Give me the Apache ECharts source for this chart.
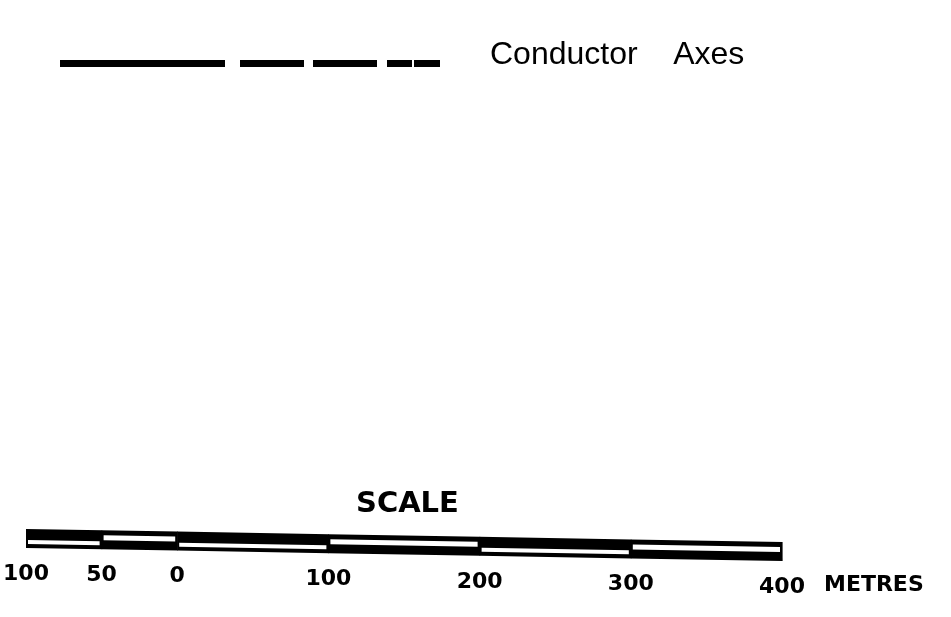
<!DOCTYPE html>
<html>
<head>
<meta charset="utf-8">
<script src="https://cdn.jsdelivr.net/npm/echarts@6/dist/echarts.min.js"></script>
<style>
html,body{margin:0;padding:0;background:#fff;}
#chart{width:951px;height:617px;}
</style>
</head>
<body>
<div id="chart"></div>
<script>
// ---- data ----
const scaleTicks = [-100, -50, 0, 100, 200, 300, 400];
const tickLabels = ['100', '50', '0', '100', '200', '300', '400'];
const segStart = [-100, -50, 0, 100, 200, 300];
const segEnd = [-50, 0, 100, 200, 300, 400];
const segOpenRow = ['bottom', 'top', 'bottom', 'top', 'bottom', 'top'];
const legendName = 'Conductor    Axes';
const unitLabel = 'METRES';
const scaleTitle = 'SCALE';

// ---- style ----
const SLOPE = 0.0172; // slight skew of the scanned scale bar
// solid + dashed legend sample; the tiny first subpath lifts the icon's box so the line sits below the text centre
const legendIcon = 'path://M0 -17L0.01 -17L0.01 -16.99Z M0 0H165V7H0Z M180 0H244V7H180Z M253 0H317V7H253Z M327 0H352V7H327Z M354 0H380V7H354Z';

const chart = echarts.init(document.getElementById('chart'), null, {renderer: 'canvas'});

function skew(params, x) { return (x - params.coordSys.x) * SLOPE; }

const option = {
  backgroundColor: '#ffffff',
  animation: false,
  legend: {
    left: 55,
    top: 34,
    selectedMode: false,
    icon: legendIcon,
    itemWidth: 380,
    itemHeight: 24,
    itemStyle: {color: '#000', borderWidth: 0},
    textStyle: {
      fontFamily: 'Liberation Sans',
      fontSize: 32,
      color: '#000',
      padding: [0, 0, 0, 45]
    },
    data: [legendName]
  },
  grid: {left: 26, right: 169, top: 529, height: 19, containLabel: false},
  xAxis: {
    type: 'value', min: -100, max: 400,
    axisLine: {show: false}, axisTick: {show: false},
    axisLabel: {show: false}, splitLine: {show: false}
  },
  yAxis: {
    type: 'value', min: 0, max: 2,
    axisLine: {show: false}, axisTick: {show: false},
    axisLabel: {show: false}, splitLine: {show: false}
  },
  graphic: [
    {
      type: 'text', left: 356, top: 490,
      style: {text: scaleTitle, fontFamily: 'DejaVu Sans', fontWeight: 'bold', fontSize: 29, fill: '#000'}
    },
    {
      type: 'text', left: 824, top: 574,
      style: {text: unitLabel, fontFamily: 'DejaVu Sans', fontWeight: 'bold', fontSize: 22, fill: '#000'}
    }
  ],
  series: [
    {
      type: 'line', name: legendName, data: [],
      itemStyle: {color: '#000'}, lineStyle: {color: '#000'}
    },
    {
      type: 'custom',
      name: 'scale bar',
      data: segStart.map((s, i) => [s, segEnd[i], segOpenRow[i] === 'top' ? 1 : 0]),
      renderItem: function (params, api) {
        const x1 = api.coord([api.value(0), 0])[0];
        const x2 = api.coord([api.value(1), 0])[0];
        const yTop = api.coord([0, 2])[1];
        const yMid = api.coord([0, 1])[1];
        const yBot = api.coord([0, 0])[1];
        const sk = x => skew(params, x);
        const poly = (xa, xb, ya, yb, fill) => ({
          type: 'polygon',
          shape: {points: [[xa, ya + sk(xa)], [xb, ya + sk(xb)], [xb, yb + sk(xb)], [xa, yb + sk(xa)]]},
          style: {fill: fill}
        });
        const top = api.value(2) === 1;
        const children = [poly(x1, x2 + 0.6, yTop, yBot, '#000')];
        if (top) children.push(poly(x1 + 2, x2 - 2, yTop + 5, yMid + 0.5, '#fff'));
        else children.push(poly(x1 + 2, x2 - 2, yMid + 1.5, yBot - 4, '#fff'));
        return {type: 'group', children: children};
      }
    },
    {
      type: 'custom',
      name: 'scale labels',
      data: scaleTicks.map((v, i) => [v, i]),
      renderItem: function (params, api) {
        const x = api.coord([api.value(0), 0])[0];
        const yBot = api.coord([0, 0])[1];
        return {
          type: 'text',
          style: {
            text: tickLabels[api.value(1)],
            x: x, y: yBot + 26 + skew(params, x),
            align: 'center', verticalAlign: 'middle',
            fontFamily: 'DejaVu Sans', fontWeight: 'bold', fontSize: 22, fill: '#000'
          }
        };
      }
    }
  ]
};
chart.setOption(option);
</script>
</body>
</html>
